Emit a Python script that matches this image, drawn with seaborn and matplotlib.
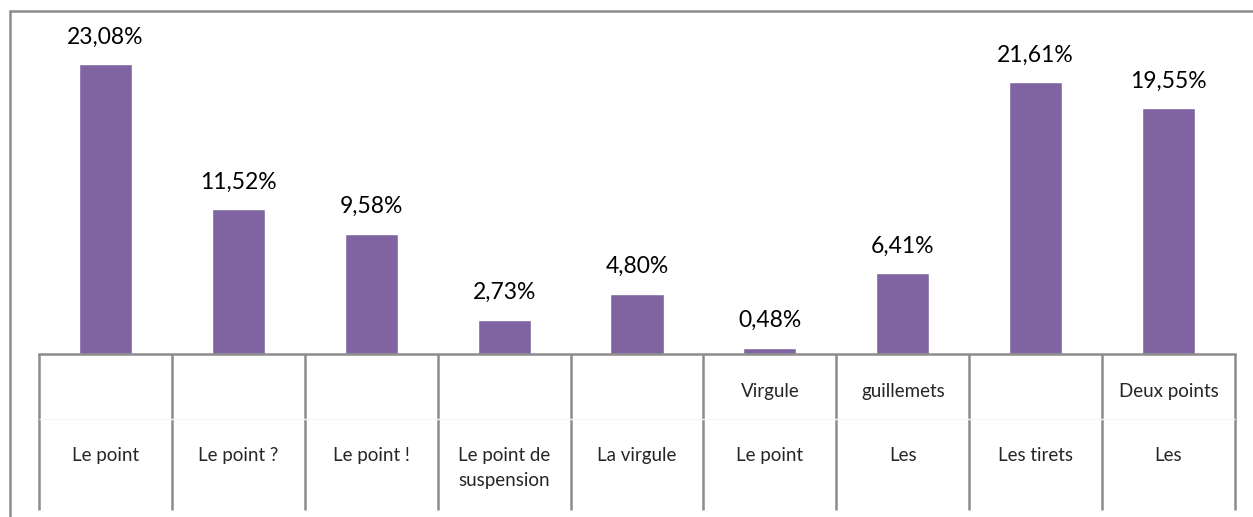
import matplotlib
matplotlib.use('Agg')
import matplotlib.pyplot as plt
from matplotlib.patches import Rectangle
import pandas as pd
import seaborn as sns

# Données du graphique
categories = ['Le point', 'Le point ?', 'Le point !', 'Le point de suspension',
              'La virgule', 'Virgule Le point', 'Les guillemets', 'Les tirets',
              'Les Deux points']
valeurs = [23.08, 11.52, 9.58, 2.73, 4.80, 0.48, 6.41, 21.61, 19.55]
etiquettes_haut = ['', '', '', '', '', 'Virgule', 'guillemets', '', 'Deux points']
etiquettes_bas = ['Le point', 'Le point ?', 'Le point !', 'Le point de\nsuspension',
                  'La virgule', 'Le point', 'Les', 'Les tirets', 'Les']

sns.set_style('white')
plt.rcParams['font.family'] = ['Lato', 'DejaVu Sans']

D = pd.DataFrame({'categorie': categories, 'valeur': valeurs})

fig = plt.figure(figsize=(12.53, 5.17), dpi=100)
ax = fig.add_axes([39 / 1253, 163 / 517, 1196 / 1253, 343 / 517])

sns.barplot(data=D, x='categorie', y='valeur', color='#8064A2', width=0.4,
            saturation=1, ax=ax)
ax.set_xlim(-0.5, len(categories) - 0.5)
ax.set_ylim(0, 27.3)

# étiquettes de valeurs
for i, v in enumerate(valeurs):
    ax.annotate(f'{v:.2f}%'.replace('.', ','), (i, v), xytext=(0, 12),
                textcoords='offset points', ha='center', va='bottom',
                fontsize=16.5, color='black')

ax.set_xlabel('')
ax.set_ylabel('')
ax.set_xticks([])
ax.set_yticks([])
for s in ['top', 'right', 'left']:
    ax.spines[s].set_visible(False)
ax.spines['bottom'].set_color('#8c8c8c')
ax.spines['bottom'].set_linewidth(1.8)

# tableau des catégories sous l'axe
tr = ax.get_xaxis_transform()
bornes = [i - 0.5 for i in range(len(categories) + 1)]
ax.vlines(bornes, -156 / 343, 0, transform=tr, colors='#8c8c8c',
          linewidth=1.8, clip_on=False)
ax.hlines(-65 / 343, -0.5, len(categories) - 0.5, transform=tr,
          colors='#f6f6f6', linewidth=1, clip_on=False)
for i, (h, b) in enumerate(zip(etiquettes_haut, etiquettes_bas)):
    if h:
        ax.text(i, -38 / 343, h, transform=tr, ha='center', va='center',
                fontsize=13.5)
    ax.text(i, -93 / 343, b, transform=tr, ha='center', va='top',
            fontsize=13.5, linespacing=1.55)

# cadre extérieur
fig.patches.append(Rectangle((10 / 1253, -0.1), 1.2, 1 - 11 / 517 + 0.1,
                             transform=fig.transFigure, fill=False,
                             edgecolor='#8c8c8c', linewidth=1.8))

plt.savefig('out.png', dpi=100)
